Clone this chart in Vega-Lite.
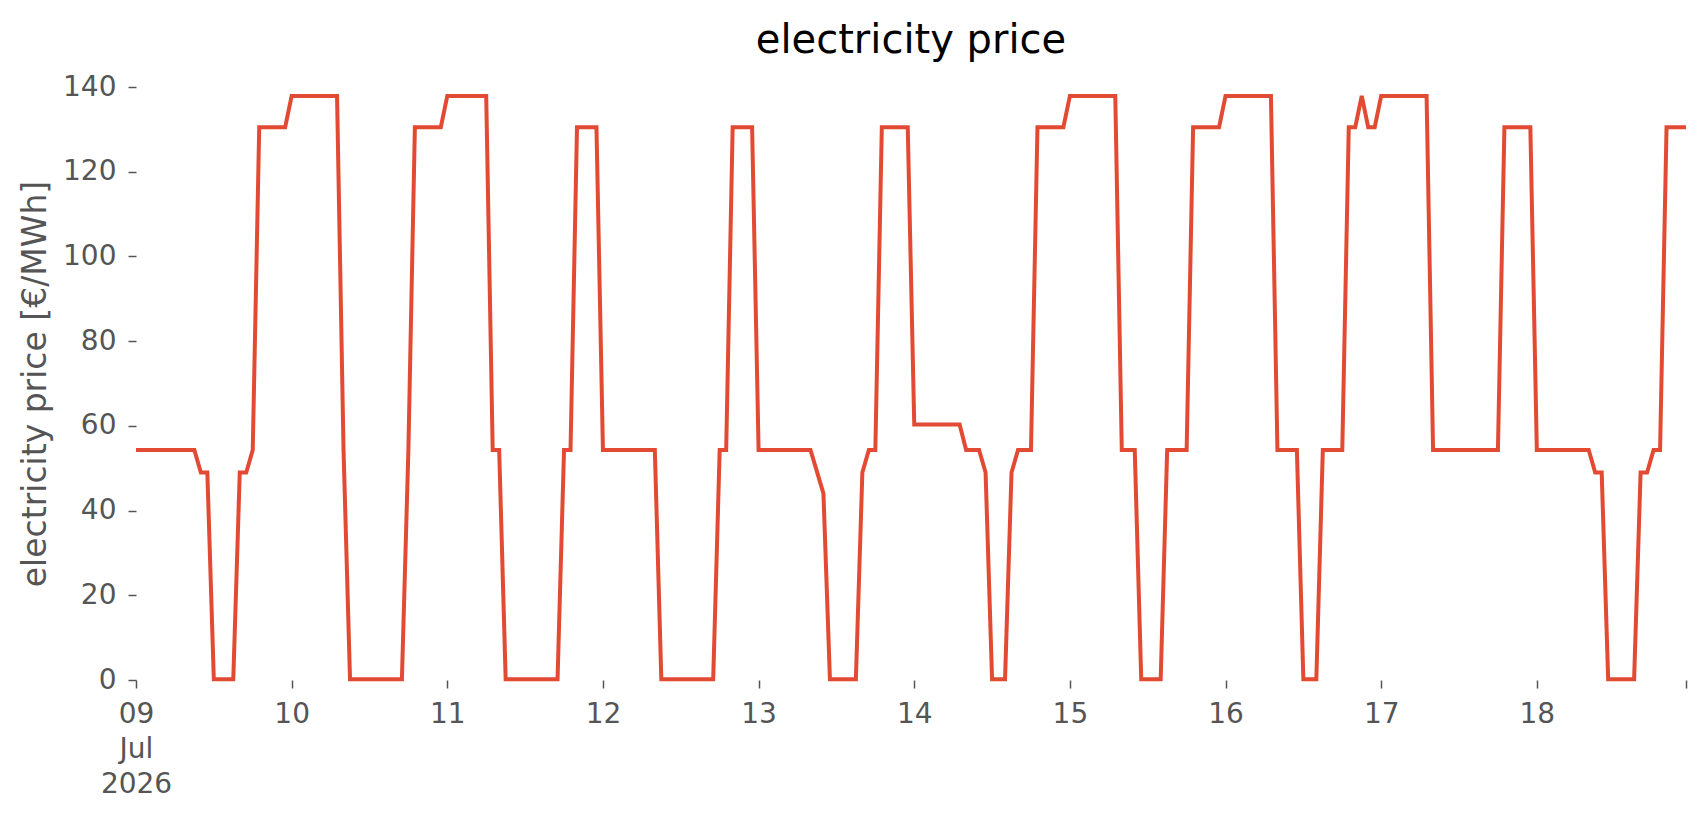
{
  "$schema": "https://vega.github.io/schema/vega-lite/v6.json",
  "autosize": {"type": "none"},
  "padding": {"left": 136, "top": 87, "right": 20, "bottom": 135},
  "width": 1550,
  "height": 593,
  "background": "white",
  "title": {
    "text": "electricity price",
    "font": "DejaVu Sans",
    "fontSize": 40,
    "fontWeight": "normal",
    "color": "#000000",
    "anchor": "middle",
    "baseline": "alphabetic",
    "offset": -20
  },
  "data": {
    "values": [
      {"t": "2026-07-09T00:00", "p": 54.3}, {"t": "2026-07-09T01:00", "p": 54.3}, {"t": "2026-07-09T02:00", "p": 54.3}, {"t": "2026-07-09T03:00", "p": 54.3},
      {"t": "2026-07-09T04:00", "p": 54.3}, {"t": "2026-07-09T05:00", "p": 54.3}, {"t": "2026-07-09T06:00", "p": 54.3}, {"t": "2026-07-09T07:00", "p": 54.3},
      {"t": "2026-07-09T08:00", "p": 54.3}, {"t": "2026-07-09T09:00", "p": 54.3}, {"t": "2026-07-09T10:00", "p": 49.0}, {"t": "2026-07-09T11:00", "p": 49.0},
      {"t": "2026-07-09T12:00", "p": 0.2}, {"t": "2026-07-09T13:00", "p": 0.2}, {"t": "2026-07-09T14:00", "p": 0.2}, {"t": "2026-07-09T15:00", "p": 0.2},
      {"t": "2026-07-09T16:00", "p": 49.0}, {"t": "2026-07-09T17:00", "p": 49.0}, {"t": "2026-07-09T18:00", "p": 54.3}, {"t": "2026-07-09T19:00", "p": 130.5},
      {"t": "2026-07-09T20:00", "p": 130.5}, {"t": "2026-07-09T21:00", "p": 130.5}, {"t": "2026-07-09T22:00", "p": 130.5}, {"t": "2026-07-09T23:00", "p": 130.5},

      {"t": "2026-07-10T00:00", "p": 137.9}, {"t": "2026-07-10T01:00", "p": 137.9}, {"t": "2026-07-10T02:00", "p": 137.9}, {"t": "2026-07-10T03:00", "p": 137.9},
      {"t": "2026-07-10T04:00", "p": 137.9}, {"t": "2026-07-10T05:00", "p": 137.9}, {"t": "2026-07-10T06:00", "p": 137.9}, {"t": "2026-07-10T07:00", "p": 137.9},
      {"t": "2026-07-10T08:00", "p": 54.3}, {"t": "2026-07-10T09:00", "p": 0.2}, {"t": "2026-07-10T10:00", "p": 0.2}, {"t": "2026-07-10T11:00", "p": 0.2},
      {"t": "2026-07-10T12:00", "p": 0.2}, {"t": "2026-07-10T13:00", "p": 0.2}, {"t": "2026-07-10T14:00", "p": 0.2}, {"t": "2026-07-10T15:00", "p": 0.2},
      {"t": "2026-07-10T16:00", "p": 0.2}, {"t": "2026-07-10T17:00", "p": 0.2}, {"t": "2026-07-10T18:00", "p": 54.3}, {"t": "2026-07-10T19:00", "p": 130.5},
      {"t": "2026-07-10T20:00", "p": 130.5}, {"t": "2026-07-10T21:00", "p": 130.5}, {"t": "2026-07-10T22:00", "p": 130.5}, {"t": "2026-07-10T23:00", "p": 130.5},

      {"t": "2026-07-11T00:00", "p": 137.9}, {"t": "2026-07-11T01:00", "p": 137.9}, {"t": "2026-07-11T02:00", "p": 137.9}, {"t": "2026-07-11T03:00", "p": 137.9},
      {"t": "2026-07-11T04:00", "p": 137.9}, {"t": "2026-07-11T05:00", "p": 137.9}, {"t": "2026-07-11T06:00", "p": 137.9}, {"t": "2026-07-11T07:00", "p": 54.3},
      {"t": "2026-07-11T08:00", "p": 54.3}, {"t": "2026-07-11T09:00", "p": 0.2}, {"t": "2026-07-11T10:00", "p": 0.2}, {"t": "2026-07-11T11:00", "p": 0.2},
      {"t": "2026-07-11T12:00", "p": 0.2}, {"t": "2026-07-11T13:00", "p": 0.2}, {"t": "2026-07-11T14:00", "p": 0.2}, {"t": "2026-07-11T15:00", "p": 0.2},
      {"t": "2026-07-11T16:00", "p": 0.2}, {"t": "2026-07-11T17:00", "p": 0.2}, {"t": "2026-07-11T18:00", "p": 54.3}, {"t": "2026-07-11T19:00", "p": 54.3},
      {"t": "2026-07-11T20:00", "p": 130.5}, {"t": "2026-07-11T21:00", "p": 130.5}, {"t": "2026-07-11T22:00", "p": 130.5}, {"t": "2026-07-11T23:00", "p": 130.5},

      {"t": "2026-07-12T00:00", "p": 54.3}, {"t": "2026-07-12T01:00", "p": 54.3}, {"t": "2026-07-12T02:00", "p": 54.3}, {"t": "2026-07-12T03:00", "p": 54.3},
      {"t": "2026-07-12T04:00", "p": 54.3}, {"t": "2026-07-12T05:00", "p": 54.3}, {"t": "2026-07-12T06:00", "p": 54.3}, {"t": "2026-07-12T07:00", "p": 54.3},
      {"t": "2026-07-12T08:00", "p": 54.3}, {"t": "2026-07-12T09:00", "p": 0.2}, {"t": "2026-07-12T10:00", "p": 0.2}, {"t": "2026-07-12T11:00", "p": 0.2},
      {"t": "2026-07-12T12:00", "p": 0.2}, {"t": "2026-07-12T13:00", "p": 0.2}, {"t": "2026-07-12T14:00", "p": 0.2}, {"t": "2026-07-12T15:00", "p": 0.2},
      {"t": "2026-07-12T16:00", "p": 0.2}, {"t": "2026-07-12T17:00", "p": 0.2}, {"t": "2026-07-12T18:00", "p": 54.3}, {"t": "2026-07-12T19:00", "p": 54.3},
      {"t": "2026-07-12T20:00", "p": 130.5}, {"t": "2026-07-12T21:00", "p": 130.5}, {"t": "2026-07-12T22:00", "p": 130.5}, {"t": "2026-07-12T23:00", "p": 130.5},

      {"t": "2026-07-13T00:00", "p": 54.3}, {"t": "2026-07-13T01:00", "p": 54.3}, {"t": "2026-07-13T02:00", "p": 54.3}, {"t": "2026-07-13T03:00", "p": 54.3},
      {"t": "2026-07-13T04:00", "p": 54.3}, {"t": "2026-07-13T05:00", "p": 54.3}, {"t": "2026-07-13T06:00", "p": 54.3}, {"t": "2026-07-13T07:00", "p": 54.3},
      {"t": "2026-07-13T08:00", "p": 54.3}, {"t": "2026-07-13T09:00", "p": 49.2}, {"t": "2026-07-13T10:00", "p": 44.0}, {"t": "2026-07-13T11:00", "p": 0.2},
      {"t": "2026-07-13T12:00", "p": 0.2}, {"t": "2026-07-13T13:00", "p": 0.2}, {"t": "2026-07-13T14:00", "p": 0.2}, {"t": "2026-07-13T15:00", "p": 0.2},
      {"t": "2026-07-13T16:00", "p": 49.0}, {"t": "2026-07-13T17:00", "p": 54.3}, {"t": "2026-07-13T18:00", "p": 54.3}, {"t": "2026-07-13T19:00", "p": 130.5},
      {"t": "2026-07-13T20:00", "p": 130.5}, {"t": "2026-07-13T21:00", "p": 130.5}, {"t": "2026-07-13T22:00", "p": 130.5}, {"t": "2026-07-13T23:00", "p": 130.5},

      {"t": "2026-07-14T00:00", "p": 60.3}, {"t": "2026-07-14T01:00", "p": 60.3}, {"t": "2026-07-14T02:00", "p": 60.3}, {"t": "2026-07-14T03:00", "p": 60.3},
      {"t": "2026-07-14T04:00", "p": 60.3}, {"t": "2026-07-14T05:00", "p": 60.3}, {"t": "2026-07-14T06:00", "p": 60.3}, {"t": "2026-07-14T07:00", "p": 60.3},
      {"t": "2026-07-14T08:00", "p": 54.3}, {"t": "2026-07-14T09:00", "p": 54.3}, {"t": "2026-07-14T10:00", "p": 54.3}, {"t": "2026-07-14T11:00", "p": 49.0},
      {"t": "2026-07-14T12:00", "p": 0.2}, {"t": "2026-07-14T13:00", "p": 0.2}, {"t": "2026-07-14T14:00", "p": 0.2}, {"t": "2026-07-14T15:00", "p": 49.0},
      {"t": "2026-07-14T16:00", "p": 54.3}, {"t": "2026-07-14T17:00", "p": 54.3}, {"t": "2026-07-14T18:00", "p": 54.3}, {"t": "2026-07-14T19:00", "p": 130.5},
      {"t": "2026-07-14T20:00", "p": 130.5}, {"t": "2026-07-14T21:00", "p": 130.5}, {"t": "2026-07-14T22:00", "p": 130.5}, {"t": "2026-07-14T23:00", "p": 130.5},

      {"t": "2026-07-15T00:00", "p": 137.9}, {"t": "2026-07-15T01:00", "p": 137.9}, {"t": "2026-07-15T02:00", "p": 137.9}, {"t": "2026-07-15T03:00", "p": 137.9},
      {"t": "2026-07-15T04:00", "p": 137.9}, {"t": "2026-07-15T05:00", "p": 137.9}, {"t": "2026-07-15T06:00", "p": 137.9}, {"t": "2026-07-15T07:00", "p": 137.9},
      {"t": "2026-07-15T08:00", "p": 54.3}, {"t": "2026-07-15T09:00", "p": 54.3}, {"t": "2026-07-15T10:00", "p": 54.3}, {"t": "2026-07-15T11:00", "p": 0.2},
      {"t": "2026-07-15T12:00", "p": 0.2}, {"t": "2026-07-15T13:00", "p": 0.2}, {"t": "2026-07-15T14:00", "p": 0.2}, {"t": "2026-07-15T15:00", "p": 54.3},
      {"t": "2026-07-15T16:00", "p": 54.3}, {"t": "2026-07-15T17:00", "p": 54.3}, {"t": "2026-07-15T18:00", "p": 54.3}, {"t": "2026-07-15T19:00", "p": 130.5},
      {"t": "2026-07-15T20:00", "p": 130.5}, {"t": "2026-07-15T21:00", "p": 130.5}, {"t": "2026-07-15T22:00", "p": 130.5}, {"t": "2026-07-15T23:00", "p": 130.5},

      {"t": "2026-07-16T00:00", "p": 137.9}, {"t": "2026-07-16T01:00", "p": 137.9}, {"t": "2026-07-16T02:00", "p": 137.9}, {"t": "2026-07-16T03:00", "p": 137.9},
      {"t": "2026-07-16T04:00", "p": 137.9}, {"t": "2026-07-16T05:00", "p": 137.9}, {"t": "2026-07-16T06:00", "p": 137.9}, {"t": "2026-07-16T07:00", "p": 137.9},
      {"t": "2026-07-16T08:00", "p": 54.3}, {"t": "2026-07-16T09:00", "p": 54.3}, {"t": "2026-07-16T10:00", "p": 54.3}, {"t": "2026-07-16T11:00", "p": 54.3},
      {"t": "2026-07-16T12:00", "p": 0.2}, {"t": "2026-07-16T13:00", "p": 0.2}, {"t": "2026-07-16T14:00", "p": 0.2}, {"t": "2026-07-16T15:00", "p": 54.3},
      {"t": "2026-07-16T16:00", "p": 54.3}, {"t": "2026-07-16T17:00", "p": 54.3}, {"t": "2026-07-16T18:00", "p": 54.3}, {"t": "2026-07-16T19:00", "p": 130.5},
      {"t": "2026-07-16T20:00", "p": 130.5}, {"t": "2026-07-16T21:00", "p": 137.9}, {"t": "2026-07-16T22:00", "p": 130.5}, {"t": "2026-07-16T23:00", "p": 130.5},

      {"t": "2026-07-17T00:00", "p": 137.9}, {"t": "2026-07-17T01:00", "p": 137.9}, {"t": "2026-07-17T02:00", "p": 137.9}, {"t": "2026-07-17T03:00", "p": 137.9},
      {"t": "2026-07-17T04:00", "p": 137.9}, {"t": "2026-07-17T05:00", "p": 137.9}, {"t": "2026-07-17T06:00", "p": 137.9}, {"t": "2026-07-17T07:00", "p": 137.9},
      {"t": "2026-07-17T08:00", "p": 54.3}, {"t": "2026-07-17T09:00", "p": 54.3}, {"t": "2026-07-17T10:00", "p": 54.3}, {"t": "2026-07-17T11:00", "p": 54.3},
      {"t": "2026-07-17T12:00", "p": 54.3}, {"t": "2026-07-17T13:00", "p": 54.3}, {"t": "2026-07-17T14:00", "p": 54.3}, {"t": "2026-07-17T15:00", "p": 54.3},
      {"t": "2026-07-17T16:00", "p": 54.3}, {"t": "2026-07-17T17:00", "p": 54.3}, {"t": "2026-07-17T18:00", "p": 54.3}, {"t": "2026-07-17T19:00", "p": 130.5},
      {"t": "2026-07-17T20:00", "p": 130.5}, {"t": "2026-07-17T21:00", "p": 130.5}, {"t": "2026-07-17T22:00", "p": 130.5}, {"t": "2026-07-17T23:00", "p": 130.5},

      {"t": "2026-07-18T00:00", "p": 54.3}, {"t": "2026-07-18T01:00", "p": 54.3}, {"t": "2026-07-18T02:00", "p": 54.3}, {"t": "2026-07-18T03:00", "p": 54.3},
      {"t": "2026-07-18T04:00", "p": 54.3}, {"t": "2026-07-18T05:00", "p": 54.3}, {"t": "2026-07-18T06:00", "p": 54.3}, {"t": "2026-07-18T07:00", "p": 54.3},
      {"t": "2026-07-18T08:00", "p": 54.3}, {"t": "2026-07-18T09:00", "p": 49.0}, {"t": "2026-07-18T10:00", "p": 49.0}, {"t": "2026-07-18T11:00", "p": 0.2},
      {"t": "2026-07-18T12:00", "p": 0.2}, {"t": "2026-07-18T13:00", "p": 0.2}, {"t": "2026-07-18T14:00", "p": 0.2}, {"t": "2026-07-18T15:00", "p": 0.2},
      {"t": "2026-07-18T16:00", "p": 49.0}, {"t": "2026-07-18T17:00", "p": 49.0}, {"t": "2026-07-18T18:00", "p": 54.3}, {"t": "2026-07-18T19:00", "p": 54.3},
      {"t": "2026-07-18T20:00", "p": 130.5}, {"t": "2026-07-18T21:00", "p": 130.5}, {"t": "2026-07-18T22:00", "p": 130.5}, {"t": "2026-07-18T23:00", "p": 130.5}
    ]
  },
  "mark": {"type": "line", "color": "#E24A33", "strokeWidth": 4, "interpolate": "linear"},
  "encoding": {
    "x": {
      "field": "t",
      "type": "temporal",
      "scale": {
        "domain": [
          {"year": 2026, "month": 7, "date": 9, "hours": 0},
          {"year": 2026, "month": 7, "date": 18, "hours": 23}
        ],
        "nice": false
      },
      "axis": {
        "title": null,
        "domain": false,
        "grid": false,
        "values": [
          {"year": 2026, "month": 7, "date": 9},
          {"year": 2026, "month": 7, "date": 10},
          {"year": 2026, "month": 7, "date": 11},
          {"year": 2026, "month": 7, "date": 12},
          {"year": 2026, "month": 7, "date": 13},
          {"year": 2026, "month": 7, "date": 14},
          {"year": 2026, "month": 7, "date": 15},
          {"year": 2026, "month": 7, "date": 16},
          {"year": 2026, "month": 7, "date": 17},
          {"year": 2026, "month": 7, "date": 18},
          {"year": 2026, "month": 7, "date": 18, "hours": 23}
        ],
        "labelExpr": "hours(datum.value) == 23 ? '' : (date(datum.value) == 9 ? ['09', 'Jul', '2026'] : timeFormat(datum.value, '%d'))",
        "labelFont": "DejaVu Sans",
        "labelFontSize": 28,
        "labelColor": "#555555",
        "labelLineHeight": 35,
        "labelAlign": "center",
        "labelBaseline": "top",
        "labelPadding": 12,
        "labelFlush": false,
        "labelOverlap": false,
        "tickColor": "#555555",
        "tickSize": 8,
        "tickWidth": 1.5
      }
    },
    "y": {
      "field": "p",
      "type": "quantitative",
      "scale": {"domain": [0, 140], "nice": false, "zero": true},
      "axis": {
        "title": "electricity price [€/MWh]",
        "titleFont": "DejaVu Sans",
        "titleFontSize": 33,
        "titleFontWeight": "normal",
        "titleColor": "#555555",
        "titlePadding": 10,
        "domain": false,
        "grid": false,
        "values": [0, 20, 40, 60, 80, 100, 120, 140],
        "labelFont": "DejaVu Sans",
        "labelFontSize": 28,
        "labelColor": "#555555",
        "labelPadding": 12,
        "labelFlush": false,
        "tickColor": "#555555",
        "tickSize": 8,
        "tickWidth": 1.5
      }
    }
  },
  "config": {
    "view": {"stroke": null},
    "font": "DejaVu Sans"
  }
}
